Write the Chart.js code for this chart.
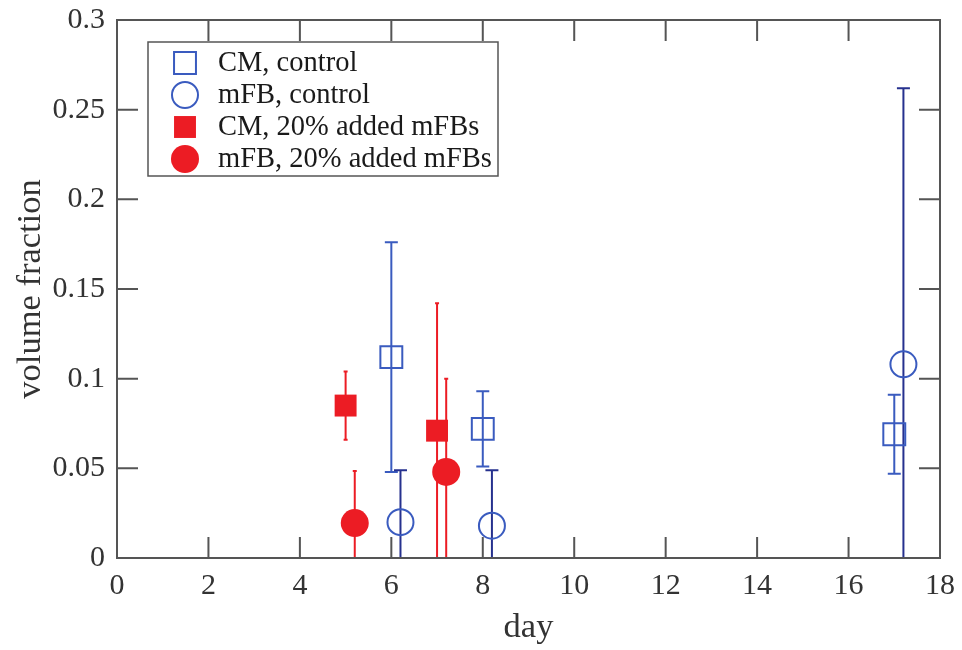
<!DOCTYPE html>
<html>
<head>
<meta charset="utf-8">
<script src="https://cdn.jsdelivr.net/npm/chart.js"></script>
<style>
  body { margin: 0; background: #fff; }
  #wrap { width: 962px; height: 650px; }
</style>
</head>
<body>
<div id="wrap"><canvas id="myChart" width="962" height="650"></canvas></div>
<script>
// values (day, volume fraction, +/- error)
let cmControlDays = [6, 8, 17]
let cmControlValues = [0.112, 0.072, 0.069]
let cmControlErrors = [0.064, 0.021, 0.022]

let mfbControlDays = [6.2, 8.2, 17.2]
let mfbControlValues = [0.020, 0.018, 0.108]
let mfbControlErrors = [0.029, 0.031, 0.154]

let cmAddedDays = [5, 7]
let cmAddedValues = [0.085, 0.071]
let cmAddedErrors = [0.019, 0.071]

let mfbAddedDays = [5.2, 7.2]
let mfbAddedValues = [0.0195, 0.048]
let mfbAddedErrors = [0.029, 0.052]

let dayTicks = [0, 2, 4, 6, 8, 10, 12, 14, 16, 18]
let fractionTicks = [0, 0.05, 0.1, 0.15, 0.2, 0.25, 0.3]
let fractionLabels = ['0', '0.05', '0.1', '0.15', '0.2', '0.25', '0.3']

let blue = '#3a5bbf'
let navy = '#26318e'
let red = '#ec1c24'
let axisGray = '#555'
let serif = "'Liberation Serif', 'DejaVu Serif', serif"

function points(days, values) {
    return days.map((d, i) => ({ x: d, y: values[i] }))
}

// error bars, drawn through the scales
let errorBars = {
    id: 'errorBars',
    beforeDatasetsDraw(chart) {
        let ctx = chart.ctx
        let area = chart.chartArea
        let xs = chart.scales.x
        let ys = chart.scales.y
        ctx.save()
        ctx.beginPath()
        ctx.rect(area.left, area.top, area.right - area.left, area.bottom - area.top)
        ctx.clip()
        chart.data.datasets.forEach(ds => {
            ctx.strokeStyle = ds.errorColor
            ctx.lineWidth = 2
            ds.data.forEach((p, i) => {
                let px = xs.getPixelForValue(p.x)
                let hi = ys.getPixelForValue(p.y + ds.errors[i])
                let lo = ys.getPixelForValue(p.y - ds.errors[i])
                let c = ds.capWidth / 2
                ctx.beginPath()
                ctx.moveTo(px, lo)
                ctx.lineTo(px, hi)
                ctx.moveTo(px - c, hi)
                ctx.lineTo(px + c, hi)
                ctx.moveTo(px - c, lo)
                ctx.lineTo(px + c, lo)
                ctx.stroke()
            })
        })
        ctx.restore()
    }
}

// box round the plot with inward ticks on all four sides
let frame = {
    id: 'frame',
    afterDatasetsDraw(chart) {
        let ctx = chart.ctx
        let a = chart.chartArea
        let tl = 21
        ctx.save()
        ctx.strokeStyle = axisGray
        ctx.lineWidth = 2
        ctx.beginPath()
        chart.scales.x.ticks.forEach(t => {
            let px = chart.scales.x.getPixelForValue(t.value)
            ctx.moveTo(px, a.bottom)
            ctx.lineTo(px, a.bottom - tl)
            ctx.moveTo(px, a.top)
            ctx.lineTo(px, a.top + tl)
        })
        chart.scales.y.ticks.forEach(t => {
            let py = chart.scales.y.getPixelForValue(t.value)
            ctx.moveTo(a.left, py)
            ctx.lineTo(a.left + tl, py)
            ctx.moveTo(a.right, py)
            ctx.lineTo(a.right - tl, py)
        })
        ctx.stroke()
        ctx.strokeRect(a.left, a.top, a.right - a.left, a.bottom - a.top)
        ctx.restore()
    }
}

// legend box in the upper left of the plot
let boxLegend = {
    id: 'boxLegend',
    afterDraw(chart) {
        let ctx = chart.ctx
        let left = 148, top = 42, w = 350, h = 134
        ctx.save()
        ctx.fillStyle = '#fff'
        ctx.fillRect(left, top, w, h)
        ctx.strokeStyle = axisGray
        ctx.lineWidth = 1.5
        ctx.strokeRect(left, top, w, h)
        chart.data.datasets.forEach((ds, i) => {
            let y = top + 21 + i * 32
            ctx.fillStyle = ds.pointBackgroundColor
            ctx.strokeStyle = ds.pointBorderColor
            ctx.lineWidth = ds.pointBorderWidth
            Chart.helpers.drawPoint(ctx, {
                pointStyle: ds.pointStyle,
                radius: ds.pointRadius,
                rotation: 0,
                borderWidth: ds.pointBorderWidth
            }, left + 37, y)
            ctx.fillStyle = '#1a1a1a'
            ctx.font = '28.5px ' + serif
            ctx.textBaseline = 'middle'
            ctx.textAlign = 'left'
            ctx.fillText(ds.label, left + 70, y + 1)
        })
        ctx.restore()
    }
}

let chart = new Chart(document.getElementById('myChart'), {
    type: 'scatter',
    data: {
        datasets: [{
            label: 'CM, control',
            data: points(cmControlDays, cmControlValues),
            errors: cmControlErrors,
            errorColor: blue,
            capWidth: 13,
            pointStyle: 'rect',
            pointRadius: 15.5,
            pointBackgroundColor: 'rgba(0,0,0,0)',
            pointBorderColor: blue,
            pointBorderWidth: 2
        }, {
            label: 'mFB, control',
            data: points(mfbControlDays, mfbControlValues),
            errors: mfbControlErrors,
            errorColor: navy,
            capWidth: 13,
            pointStyle: 'circle',
            pointRadius: 13,
            pointBackgroundColor: 'rgba(0,0,0,0)',
            pointBorderColor: blue,
            pointBorderWidth: 2
        }, {
            label: 'CM, 20% added mFBs',
            data: points(cmAddedDays, cmAddedValues),
            errors: cmAddedErrors,
            errorColor: red,
            capWidth: 4,
            pointStyle: 'rect',
            pointRadius: 15.5,
            pointBackgroundColor: red,
            pointBorderColor: red,
            pointBorderWidth: 0
        }, {
            label: 'mFB, 20% added mFBs',
            data: points(mfbAddedDays, mfbAddedValues),
            errors: mfbAddedErrors,
            errorColor: red,
            capWidth: 4,
            pointStyle: 'circle',
            pointRadius: 14,
            pointBackgroundColor: red,
            pointBorderColor: red,
            pointBorderWidth: 0
        }]
    },
    options: {
        responsive: false,
        animation: false,
        layout: { padding: { left: 0, top: 20, right: 22, bottom: 0 } },
        plugins: {
            legend: { display: false },
            tooltip: { enabled: false }
        },
        scales: {
            x: {
                type: 'linear',
                min: 0,
                max: 18,
                afterBuildTicks: s => { s.ticks = dayTicks.map(v => ({ value: v })) },
                afterFit: s => { s.height = 92 },
                grid: { display: false, drawTicks: false },
                border: { display: false },
                ticks: {
                    padding: 7,
                    color: '#333',
                    font: { family: serif, size: 30, lineHeight: 1.4 }
                },
                title: {
                    display: true,
                    text: 'day',
                    color: '#333',
                    padding: { bottom: 1 },
                    font: { family: serif, size: 34.5 }
                }
            },
            y: {
                type: 'linear',
                min: 0,
                max: 0.3,
                afterBuildTicks: s => { s.ticks = fractionTicks.map(v => ({ value: v })) },
                afterFit: s => { s.width = 117 },
                grid: { display: false, drawTicks: false },
                border: { display: false },
                ticks: {
                    padding: 12,
                    color: '#333',
                    font: { family: serif, size: 30, lineHeight: 0.5 },
                    callback: (v, i) => fractionLabels[i]
                },
                title: {
                    display: true,
                    text: 'volume fraction',
                    color: '#333',
                    padding: { top: 10 },
                    font: { family: serif, size: 34.5 }
                }
            }
        }
    },
    plugins: [errorBars, frame, boxLegend]
})
</script>
</body>
</html>
